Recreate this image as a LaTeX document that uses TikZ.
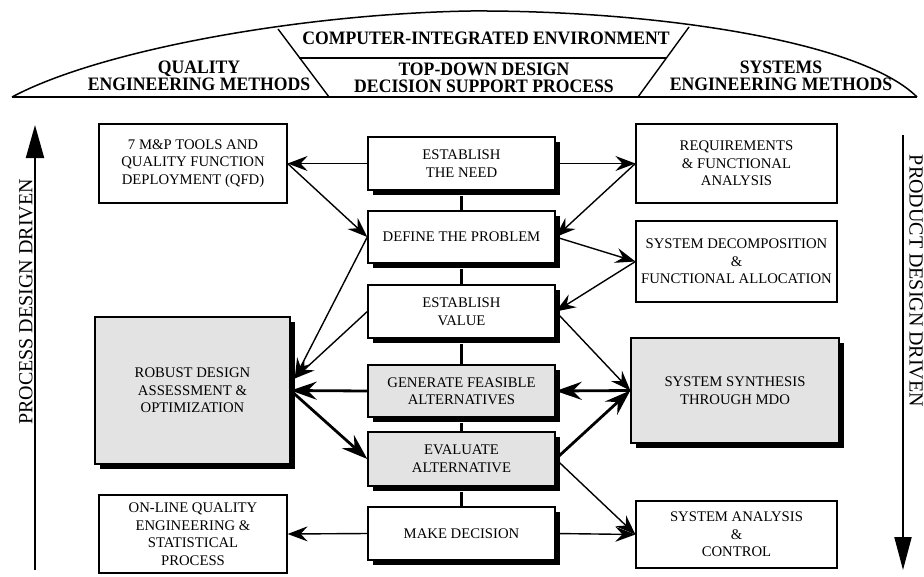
\documentclass[tikz,border=0pt]{standalone}
\usepackage{fontspec}
\setmainfont{Liberation Serif}
\newfontfamily\hdrfont[FakeStretch=0.93]{Liberation Serif}
\usetikzlibrary{arrows.meta,shadows,calc}
\definecolor{boxgray}{gray}{0.89}
\begin{document}
\begin{tikzpicture}[x=1pt,y=-1pt,
  txt/.style={font=\fontsize{14.7}{17.5}\selectfont, align=center},
  hdr/.style={font=\hdrfont\bfseries\fontsize{19}{17.5}\selectfont, align=center, inner sep=0pt},
  side/.style={font=\fontsize{20}{20}\selectfont, inner sep=0pt},
  plainbox/.style={txt, draw=black, line width=1.2pt, fill=white, inner sep=0pt},
  shbox/.style={plainbox, line width=1.4pt, drop shadow={shadow xshift=5pt, shadow yshift=-5pt, fill=black, opacity=1}},
  greybox/.style={fill=boxgray},
  thinarrow/.style={line width=1.4pt, -{Stealth[length=20pt,width=15pt,inset=7pt]}},
  thickarrow/.style={line width=2.8pt, -{Stealth[length=26pt,width=18pt,inset=9pt]}},
  link/.style={line width=3pt},
  sidearrow/.style={line width=2pt, -{Triangle[length=33pt,width=18pt]}}
]
\useasboundingbox (0,0) rectangle (924,576);

% ---------- header dome ----------
\draw[line width=1.5pt, fill=white] (12,97) .. controls (100,50) and (300,14) .. (470,11)
  .. controls (650,10) and (860,40) .. (917,97);
\draw[line width=2.5pt] (12,97) -- (917,97);
\draw[line width=1.4pt] (278,29) -- (329,97);
\draw[line width=1.4pt] (689,27) -- (638,97);
\draw[line width=2.6pt] (299,58) -- (666,58);
\node[hdr] (cie) at (486,38) {COMPUTER-INTEGRATED ENVIRONMENT};
\node[hdr] (tdd) at (484,78) {TOP-DOWN DESIGN\\DECISION SUPPORT PROCESS};
\node[hdr] (qem) at (199,76) {QUALITY\\ENGINEERING METHODS};
\node[hdr] (sem) at (781,76) {SYSTEMS\\ENGINEERING METHODS};

% ---------- side arrows ----------
\coordinate (lbot) at (35,570);
\coordinate (ltop) at (35,125);
\draw[sidearrow] (lbot) -- (ltop);
\node[side, rotate=90] (pdd) at (26,302) {PROCESS DESIGN DRIVEN};
\coordinate (rtop) at (903,135);
\coordinate (rbot) at (903,570);
\draw[sidearrow, -{Triangle[length=33pt,width=17pt]}] (rtop) -- (rbot);
\node[side, rotate=-90] (prd) at (916,281) {PRODUCT DESIGN DRIVEN};

% ---------- center column ----------
\node[shbox, minimum width=187pt, minimum height=53pt] (need) at (461.5,163.5) {ESTABLISH\\THE NEED};
\node[shbox, minimum width=187pt, minimum height=52pt] (prob) at (461.5,237) {DEFINE THE PROBLEM};
\node[shbox, minimum width=187pt, minimum height=53pt] (value) at (461.5,311.5) {ESTABLISH\\VALUE};
\node[shbox, greybox, minimum width=187pt, minimum height=52pt] (gen) at (461.5,391) {GENERATE FEASIBLE\\ALTERNATIVES};
\node[shbox, greybox, minimum width=187pt, minimum height=54pt] (eval) at (461.5,459) {EVALUATE\\ALTERNATIVE};
\node[shbox, minimum width=187pt, minimum height=53pt] (dec) at (461.5,533.5) {MAKE DECISION};

\draw[link] ([yshift=-5pt]need.south) -- (prob.north);
\draw[link] ([yshift=-5pt]prob.south) -- (value.north);
\draw[link] ([yshift=-5pt]value.south) -- (gen.north);
\draw[link] ([yshift=-5pt]gen.south) -- (eval.north);
\draw[link] ([yshift=-5pt]eval.south) -- (dec.north);

% ---------- left column ----------
\node[plainbox, minimum width=188pt, minimum height=79pt] (qfd) at (193,163.5) {7 M\&P TOOLS AND\\QUALITY FUNCTION\\DEPLOYMENT (QFD)};
\node[shbox, greybox, minimum width=195pt, minimum height=147pt] (robust) at (192.5,390.5) {ROBUST DESIGN\\ASSESSMENT \&\\OPTIMIZATION};
\node[plainbox, minimum width=188pt, minimum height=78pt] (online) at (193,534) {ON-LINE QUALITY\\ENGINEERING \&\\STATISTICAL\\PROCESS};

% ---------- right column ----------
\node[plainbox, minimum width=201pt, minimum height=79pt] (req) at (736.5,163.5) {REQUIREMENTS\\\& FUNCTIONAL\\ANALYSIS};
\node[plainbox, minimum width=201pt, minimum height=81pt] (decomp) at (736.5,261.5) {SYSTEM DECOMPOSITION\\\&\\FUNCTIONAL ALLOCATION};
\node[shbox, greybox, minimum width=208pt, minimum height=105pt] (synth) at (735,390.5) {SYSTEM SYNTHESIS\\THROUGH MDO};
\node[plainbox, minimum width=201pt, minimum height=67pt] (analysis) at (736.5,534.5) {SYSTEM ANALYSIS\\\&\\CONTROL};

% ---------- connectors ----------
\coordinate (robin) at ($(robust.east)+(4,-12)$);
\draw[thinarrow] (need.west) -- (qfd.east);
\draw[thinarrow] (qfd.east) -- (prob.west);
\draw[thinarrow] (need.east) -- (req.west);
\draw[thinarrow] (req.west) -- (prob.east);
\draw[thinarrow] (prob.east) -- (decomp.west);
\draw[thinarrow] (decomp.west) -- (value.east);
\draw[thinarrow] (prob.west) -- (robin);
\draw[thinarrow] (value.west) -- (robin);
\draw[thickarrow] (gen.west) -- (robust.east);
\draw[thickarrow] (robust.east) -- (eval.west);
\draw[thinarrow] (value.east) -- (synth.west);
\draw[thickarrow] (synth.west) -- (gen.east);
\draw[thickarrow] (eval.east) -- (synth.west);
\draw[thinarrow] (eval.east) -- (analysis.west);
\draw[thinarrow] (dec.east) -- (analysis.west);
\draw[thinarrow] (dec.west) -- (online.east);
\end{tikzpicture}
\end{document}
